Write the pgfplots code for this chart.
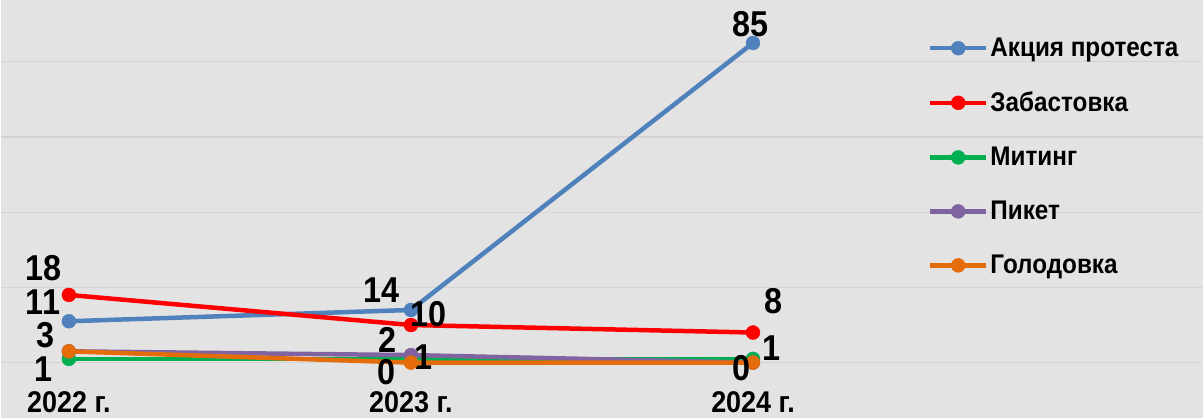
\documentclass[border=0pt]{standalone}
\usepackage{pgfplots}
\pgfplotsset{compat=1.18}
\usepackage{pgfplotstable}
\usepackage{fontspec}
\setmainfont{Liberation Sans}[FakeStretch=0.9]
\newfontfamily\bfont{Liberation Sans Bold}[FakeStretch=0.9]
\definecolor{bg}{HTML}{E3E3E3}
\definecolor{gridc}{HTML}{D4D4D4}
\definecolor{cblue}{HTML}{4F81BD}
\definecolor{cred}{HTML}{FF0000}
\definecolor{cgreen}{HTML}{00B050}
\definecolor{cpurple}{HTML}{8064A2}
\definecolor{corange}{HTML}{E46C0A}

% s = 1: label shown, s = 0: label hidden behind another identical one
\pgfplotstableread{
x y dx dy s
0 11 -26 19 1
1 14 -29 20 1
2 85 -3 19 1
}\tblue
\pgfplotstableread{
x y dx dy s
0 18 -25 27 1
1 10 18 11 1
2 8 21 31 1
}\tred
\pgfplotstableread{
x y dx dy s
0 1 -25 -10 1
1 1 13 2 1
2 1 19 11 1
}\tgreen
\pgfplotstableread{
x y dx dy s
0 3 -23 16 1
1 2 -23 15 1
2 0 -12 -6 0
}\tpurple
\pgfplotstableread{
x y dx dy s
0 3 -23 16 0
1 0 -24 -10 1
2 0 -12 -6 1
}\torange

\begin{document}
\begin{tikzpicture}
\begin{axis}[
  scale only axis, width=1204bp, height=418bp,
  xmin=-0.1985, xmax=3.3168, ymin=-14.61, ymax=96.41,
  axis background/.style={fill=bg},
  axis line style={draw=none},
  major tick length=0pt,
  ytick={0,20,40,60,80}, yticklabels={},
  yticklabel style={inner sep=0pt, outer sep=0pt},
  ymajorgrids, major grid style={gridc, line width=1.2bp},
  xtick={0,1,2}, xticklabels={2022 г.,2023 г.,2024 г.},
  xticklabel style={anchor=center, yshift=15bp, inner sep=1pt, outer sep=0pt, font=\bfont\fontsize{30bp}{32bp}\selectfont},
  clip=false,
  every axis plot/.append style={line width=4.5bp, mark=*, mark size=7bp, mark options={line width=0.4bp}},
  point meta=y,
  visualization depends on={\thisrow{dx} \as \dx},
  visualization depends on={\thisrow{dy} \as \dy},
  visualization depends on={\thisrow{s} \as \show},
  nodes near coords={\ifdim\show pt>0.5pt\bfont\fontsize{36bp}{40bp}\selectfont\pgfmathprintnumber[assume math mode=true]{\pgfplotspointmeta}\fi},
  every node near coord/.append style={anchor=center, xshift=\dx bp, yshift=\dy bp, text=black, inner sep=0.5pt},
  legend style={at={(rel axis cs:0.7708,0.914)}, anchor=north west, draw=none, fill=none,
    font=\bfont\fontsize{27bp}{30bp}\selectfont, row sep=30bp, inner sep=0pt},
  legend cell align=left,
  legend image code/.code={\draw[#1, mark repeat=2, mark phase=2] plot coordinates {(0bp,0bp)(28bp,0bp)(56bp,0bp)};},
]
\addplot[cblue] table {\tblue};
\addplot[cred] table {\tred};
\addplot[cgreen] table {\tgreen};
\addplot[cpurple] table {\tpurple};
\addplot[corange] table {\torange};
\legend{Акция протеста, Забастовка, Митинг, Пикет, Голодовка}
\end{axis}
\end{tikzpicture}
\end{document}
